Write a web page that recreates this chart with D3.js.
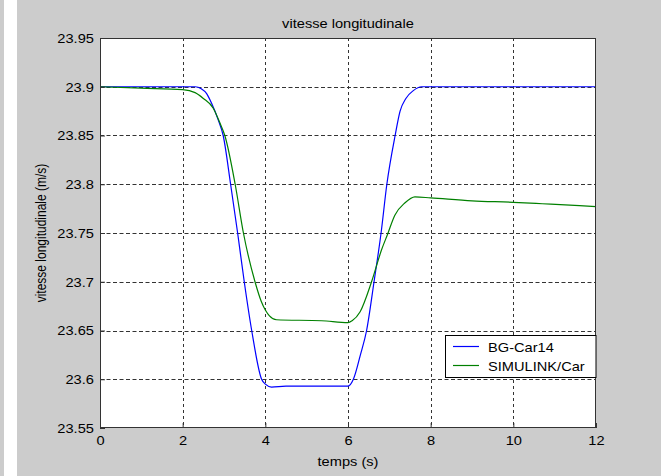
<!DOCTYPE html>
<html>
<head>
<meta charset="utf-8">
<script src="https://cdn.jsdelivr.net/npm/d3@7"></script>
<style>
  html, body { margin: 0; padding: 0; background: #cccccc; }
  svg { display: block; }
  text { font-family: "Liberation Sans", Arial, sans-serif; fill: #000; }
</style>
</head>
<body>
<svg id="chart" width="661" height="476"></svg>
<script>
// Simulation time samples (s) and longitudinal speed (m/s) for each model
const timeBG = [0, 2.3, 2.45, 2.58, 2.7, 2.86, 2.98, 3.16, 3.33, 3.49, 3.67, 3.91, 4.0, 4.15, 4.5, 6.0,
                6.13, 6.3, 6.45, 6.63, 6.8, 6.94, 7.14, 7.26, 7.4, 7.58, 7.78, 12];
const speedBG = [23.9, 23.9, 23.898, 23.893, 23.883, 23.866, 23.85, 23.8, 23.75, 23.7, 23.65, 23.6, 23.595, 23.592, 23.593, 23.593,
                 23.6, 23.625, 23.65, 23.7, 23.75, 23.8, 23.85, 23.875, 23.888, 23.896, 23.9, 23.9];

const timeSim = [0, 1, 2, 2.3, 2.5, 2.74, 2.9, 3.02, 3.27, 3.47, 3.75, 3.9, 4.0, 4.1, 4.27, 5.36, 6.0,
                 6.1, 6.29, 6.57, 6.81, 6.96, 7.13, 7.38, 7.62, 8.0, 9.0, 10.0, 10.7, 11.6, 12];
const speedSim = [23.9, 23.8985, 23.897, 23.894, 23.888, 23.878, 23.863, 23.85, 23.8, 23.75, 23.7, 23.68, 23.671, 23.665, 23.661, 23.66, 23.658,
                  23.66, 23.669, 23.7, 23.7325, 23.749, 23.768, 23.781, 23.787, 23.786, 23.783, 23.7815, 23.78, 23.778, 23.777];

const xTicks = [0, 2, 4, 6, 8, 10, 12];
const yTicks = [23.55, 23.6, 23.65, 23.7, 23.75, 23.8, 23.85, 23.9, 23.95];

const seriesNames = ["BG-Car14", "SIMULINK/Car"];
const seriesColors = ["#0000ff", "#008000"];

const titleText = "vitesse longitudinale";
const xLabelText = "temps (s)";
const yLabelText = "vitesse longitudinale (m/s)";

// Layout
const W = 661, H = 476;
const plot = { left: 100, top: 38, right: 596, bottom: 428 };
const stretch = 1.22; // horizontal text aspect

const svg = d3.select("#chart");

// Figure background with the light side strip
svg.append("rect").attr("x", 0).attr("y", 0).attr("width", W).attr("height", H).attr("fill", "#cccccc");
svg.append("rect").attr("x", 4).attr("y", 0).attr("width", 13).attr("height", H).attr("fill", "#ffffff");

const x = d3.scaleLinear().domain([0, 12]).range([plot.left, plot.right]);
const y = d3.scaleLinear().domain([23.55, 23.95]).range([plot.bottom, plot.top]);

// Axes area
svg.append("rect")
  .attr("x", plot.left).attr("y", plot.top)
  .attr("width", plot.right - plot.left).attr("height", plot.bottom - plot.top)
  .attr("fill", "#ffffff");

// Grid lines
const grid = svg.append("g").attr("class", "grid");
grid.selectAll("line.v").data(xTicks.slice(1, -1)).join("line")
  .attr("class", "v")
  .attr("x1", d => Math.round(x(d)) + 0.5).attr("x2", d => Math.round(x(d)) + 0.5)
  .attr("y1", plot.top).attr("y2", plot.bottom)
  .attr("stroke", "#333").attr("stroke-width", 1).attr("stroke-dasharray", "3,3");
grid.selectAll("line.h").data(yTicks.slice(1, -1)).join("line")
  .attr("class", "h")
  .attr("x1", plot.left).attr("x2", plot.right)
  .attr("y1", d => Math.round(y(d)) + 0.5).attr("y2", d => Math.round(y(d)) + 0.5)
  .attr("stroke", "#333").attr("stroke-width", 1).attr("stroke-dasharray", "4,2.5");

// Curves
const line = d3.line()
  .x(d => x(d[0]))
  .y(d => y(d[1]))
  .curve(d3.curveMonotoneX);

const series = [d3.zip(timeBG, speedBG), d3.zip(timeSim, speedSim)];
const clip = svg.append("clipPath").attr("id", "clip")
  .append("rect").attr("x", plot.left).attr("y", plot.top)
  .attr("width", plot.right - plot.left).attr("height", plot.bottom - plot.top);

svg.append("g").attr("clip-path", "url(#clip)")
  .selectAll("path").data(series).join("path")
  .attr("d", line)
  .attr("fill", "none")
  .attr("stroke", (d, i) => seriesColors[i])
  .attr("stroke-width", 1.2);

// Axes with inward ticks, drawn through d3 axis generators
const xAxis = d3.axisBottom(x).tickValues(xTicks).tickSizeInner(-5).tickSizeOuter(0).tickFormat(d3.format("d"));
const yAxis = d3.axisLeft(y).tickValues(yTicks).tickSizeInner(-5).tickSizeOuter(0).tickFormat(d => String(+d.toFixed(2)));

const gx = svg.append("g").attr("transform", `translate(0,${plot.bottom})`).call(xAxis);
const gy = svg.append("g").attr("transform", `translate(${plot.left},0)`).call(yAxis);
[gx, gy].forEach(g => {
  g.select(".domain").remove();
  g.selectAll(".tick line").attr("stroke", "#333");
  g.selectAll(".tick text").attr("font-size", 12).attr("fill", "#000")
    .attr("font-family", "'Liberation Sans', Arial, sans-serif");
});
gx.selectAll(".tick text").attr("y", 8).attr("dy", "0.71em")
  .attr("transform", `scale(${stretch},1)`);
gy.selectAll(".tick text").attr("x", -5).attr("dy", "0.36em")
  .attr("transform", `scale(${stretch},1)`);

// Axes box
svg.append("rect")
  .attr("x", plot.left + 0.5).attr("y", plot.top + 0.5)
  .attr("width", plot.right - plot.left - 1).attr("height", plot.bottom - plot.top - 1)
  .attr("fill", "none").attr("stroke", "#333").attr("stroke-width", 1);

// Text helper with horizontal stretch
function label(px, py, txt, size, anchor, rotate) {
  const t = svg.append("text")
    .attr("transform", `translate(${px},${py})` + (rotate ? ` rotate(${rotate})` : "") + ` scale(${rotate ? 1 : stretch},${rotate ? stretch : 1})`)
    .attr("font-size", size)
    .attr("text-anchor", anchor)
    .text(txt);
  return t;
}

label((plot.left + plot.right) / 2, 28, titleText, 12, "middle");
label((plot.left + plot.right) / 2, 466, xLabelText, 12, "middle");
label(46, (plot.top + plot.bottom) / 2, yLabelText, 12, "middle", -90);

// Legend
const lg = svg.append("g");
lg.append("rect").attr("x", 445.5).attr("y", 335.5).attr("width", 150.5).attr("height", 42)
  .attr("fill", "#ffffff").attr("stroke", "#000").attr("stroke-width", 1);
seriesNames.forEach((name, i) => {
  const ly = 346.5 + i * 19;
  lg.append("line").attr("x1", 453).attr("x2", 479).attr("y1", ly).attr("y2", ly)
    .attr("stroke", seriesColors[i]).attr("stroke-width", 1.2);
  label(488, ly + 5, name, 12, "start");
});
</script>
</body>
</html>
